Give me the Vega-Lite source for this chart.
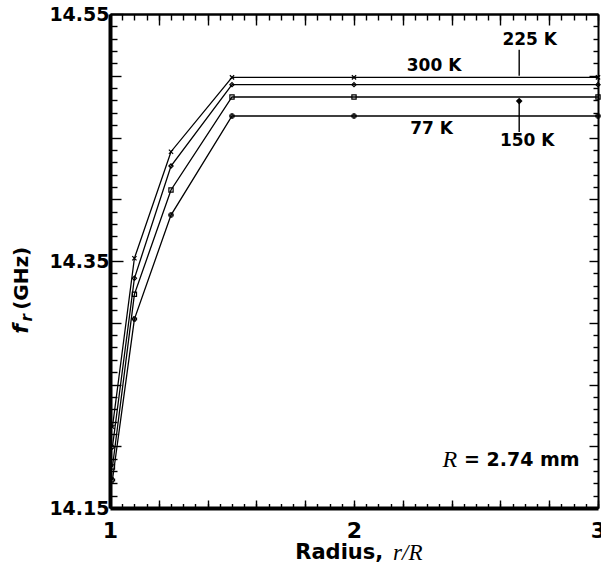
{
  "$schema": "https://vega.github.io/schema/vega-lite/v6.json",
  "width": 488,
  "height": 494,
  "autosize": "none",
  "padding": {"left": 110, "top": 14, "right": 3, "bottom": 64},
  "background": "white",
  "config": {
    "view": {"stroke": null},
    "axis": {"grid": false, "domainColor": "black", "tickColor": "black", "labelColor": "black", "labelFont": "DejaVu Sans", "labelFontWeight": "bold", "labelFontSize": 19, "labelOverlap": false, "labelFlush": false, "title": null, "ticks": true, "tickWidth": 1.4}
  },
  "datasets": {
    "curves": [
      {"T": "300 K", "r": 1.01, "f": 14.2156},
      {"T": "300 K", "r": 1.1, "f": 14.3522},
      {"T": "300 K", "r": 1.25, "f": 14.4385},
      {"T": "300 K", "r": 1.5, "f": 14.4987},
      {"T": "300 K", "r": 2.0, "f": 14.4987},
      {"T": "300 K", "r": 3.0, "f": 14.4987},
      {"T": "225 K", "r": 1.01, "f": 14.1994},
      {"T": "225 K", "r": 1.1, "f": 14.336},
      {"T": "225 K", "r": 1.25, "f": 14.4269},
      {"T": "225 K", "r": 1.5, "f": 14.4928},
      {"T": "225 K", "r": 2.0, "f": 14.4928},
      {"T": "225 K", "r": 3.0, "f": 14.4928},
      {"T": "150 K", "r": 1.01, "f": 14.1832},
      {"T": "150 K", "r": 1.1, "f": 14.323},
      {"T": "150 K", "r": 1.25, "f": 14.4075},
      {"T": "150 K", "r": 1.5, "f": 14.4828},
      {"T": "150 K", "r": 2.0, "f": 14.4828},
      {"T": "150 K", "r": 3.0, "f": 14.4828},
      {"T": "77 K", "r": 1.01, "f": 14.1727},
      {"T": "77 K", "r": 1.1, "f": 14.303},
      {"T": "77 K", "r": 1.25, "f": 14.3872},
      {"T": "77 K", "r": 1.5, "f": 14.4674},
      {"T": "77 K", "r": 2.0, "f": 14.4674},
      {"T": "77 K", "r": 3.0, "f": 14.4674}
    ],
    "labels": [
      {"text": "225 K", "x": 2.72, "y": 14.529},
      {"text": "300 K", "x": 2.328, "y": 14.508},
      {"text": "77 K", "x": 2.318, "y": 14.457},
      {"text": "150 K", "x": 2.71, "y": 14.447}
    ],
    "arrows": [
      {"T": "225 K", "x": 2.677, "y": 14.521, "y2": 14.5, "tip": 14.5015, "dir": "down"},
      {"T": "150 K", "x": 2.677, "y": 14.4545, "y2": 14.481, "tip": 14.4795, "dir": "up"}
    ]
  },
  "layer": [
    {
      "data": {"name": "curves"},
      "mark": {"type": "line", "color": "black", "strokeWidth": 1.3},
      "encoding": {
        "x": {"field": "r", "type": "quantitative", "scale": {"domain": [1, 3], "nice": false, "zero": false},
          "axis": {"orient": "bottom", "values": [1,1.2,1.4,1.6,1.8,2,2.2,2.4,2.6,2.8,3],
            "labelExpr": "round(datum.value*100) % 100 == 0 ? format(datum.value, 'd') : ''",
            "tickSize": -8, "domainWidth": 4, "labelPadding": 20, "labelFontSize": 22}},
        "y": {"field": "f", "type": "quantitative", "scale": {"domain": [14.15, 14.55], "nice": false, "zero": false},
          "axis": {"orient": "left", "values": [14.15,14.16,14.17,14.18,14.19,14.2,14.21,14.22,14.23,14.24,14.25,14.26,14.27,14.28,14.29,14.3,14.31,14.32,14.33,14.34,14.35,14.36,14.37,14.38,14.39,14.4,14.41,14.42,14.43,14.44,14.45,14.46,14.47,14.48,14.49,14.5,14.51,14.52,14.53,14.54,14.55],
            "labelExpr": "indexof([1415,1435,1455], round(datum.value*100)) >= 0 ? format(datum.value, '.2f') : ''",
            "tickSize": {"condition": [{"test": "indexof([1415,1435,1455], round(datum.value*100)) >= 0", "value": -13}, {"test": "round(datum.value*100) % 5 == 0", "value": -11}], "value": -7},
            "domainWidth": 4, "labelPadding": 14}},
        "detail": {"field": "T", "type": "nominal"}
      }
    },
    {
      "data": {"name": "curves"},
      "mark": {"type": "point", "filled": false, "stroke": "black", "strokeWidth": 1.2, "size": 18, "opacity": 1},
      "encoding": {
        "x": {"field": "r", "type": "quantitative", "axis": {"orient": "top", "values": [1,1.2,1.4,1.6,1.8,2,2.2,2.4,2.6,2.8,3],
            "labels": false, "tickSize": -11, "domainWidth": 2.5}},
        "y": {"field": "f", "type": "quantitative", "axis": {"orient": "right", "values": [14.15,14.16,14.17,14.18,14.19,14.2,14.21,14.22,14.23,14.24,14.25,14.26,14.27,14.28,14.29,14.3,14.31,14.32,14.33,14.34,14.35,14.36,14.37,14.38,14.39,14.4,14.41,14.42,14.43,14.44,14.45,14.46,14.47,14.48,14.49,14.5,14.51,14.52,14.53,14.54,14.55],
            "labels": false,
            "tickSize": {"condition": {"test": "round(datum.value*100) % 5 == 0", "value": -9}, "value": -5},
            "domainWidth": 2}},
        "shape": {"field": "T", "type": "nominal", "legend": null,
          "scale": {"domain": ["300 K", "225 K", "150 K", "77 K"], "range": ["M-1,-1L1,1M1,-1L-1,1", "diamond", "square", "cross"]}}
      }
    },
    {
      "data": {"name": "labels"},
      "mark": {"type": "text", "font": "DejaVu Sans", "fontWeight": "bold", "fontSize": 17, "align": "center", "baseline": "middle", "color": "black"},
      "encoding": {
        "x": {"field": "x", "type": "quantitative", "axis": {"orient": "bottom", "values": [1,1.05,1.1,1.15,1.2,1.25,1.3,1.35,1.4,1.45,1.5,1.55,1.6,1.65,1.7,1.75,1.8,1.85,1.9,1.95,2,2.05,2.1,2.15,2.2,2.25,2.3,2.35,2.4,2.45,2.5,2.55,2.6,2.65,2.7,2.75,2.8,2.85,2.9,2.95,3],
            "labels": false, "domain": false, "tickSize": -4.5}},
        "y": {"field": "y", "type": "quantitative", "axis": null},
        "text": {"field": "text"}
      }
    },
    {
      "data": {"name": "arrows"},
      "mark": {"type": "rule", "color": "black", "strokeWidth": 1.4},
      "encoding": {
        "x": {"field": "x", "type": "quantitative", "axis": {"orient": "top", "values": [1,1.05,1.1,1.15,1.2,1.25,1.3,1.35,1.4,1.45,1.5,1.55,1.6,1.65,1.7,1.75,1.8,1.85,1.9,1.95,2,2.05,2.1,2.15,2.2,2.25,2.3,2.35,2.4,2.45,2.5,2.55,2.6,2.65,2.7,2.75,2.8,2.85,2.9,2.95,3],
            "labels": false, "domain": false, "tickSize": -6}},
        "y": {"field": "y", "type": "quantitative", "axis": null},
        "y2": {"field": "y2"}
      }
    },
    {
      "data": {"name": "arrows"},
      "mark": {"type": "point", "filled": true, "color": "black", "size": 45, "opacity": 1},
      "encoding": {
        "x": {"field": "x", "type": "quantitative", "axis": null},
        "y": {"field": "tip", "type": "quantitative", "axis": null},
        "shape": {"field": "dir", "type": "nominal", "legend": null, "scale": {"domain": ["down", "up"], "range": ["triangle-down", "triangle-up"]}}
      }
    },
    {
      "data": {"values": [{"text": "R", "x": 2.393, "y": 14.189}]},
      "mark": {"type": "text", "font": "Liberation Serif", "fontStyle": "italic", "fontSize": 24, "align": "center", "baseline": "middle", "color": "black"},
      "encoding": {
        "x": {"field": "x", "type": "quantitative", "axis": null},
        "y": {"field": "y", "type": "quantitative", "axis": null},
        "text": {"field": "text"}
      }
    },
    {
      "data": {"values": [{"text": "= 2.74 mm", "x": 2.451, "y": 14.189}]},
      "mark": {"type": "text", "font": "DejaVu Sans", "fontWeight": "bold", "fontSize": 19, "align": "left", "baseline": "middle", "color": "black"},
      "encoding": {
        "x": {"field": "x", "type": "quantitative", "axis": null},
        "y": {"field": "y", "type": "quantitative", "axis": null},
        "text": {"field": "text"}
      }
    },
    {
      "data": {"values": [{"text": "Radius,", "x": 2.12, "y": 14.1135}]},
      "mark": {"type": "text", "font": "DejaVu Sans", "fontWeight": "bold", "fontSize": 21, "align": "right", "baseline": "middle", "color": "black"},
      "encoding": {
        "x": {"field": "x", "type": "quantitative", "axis": null},
        "y": {"field": "y", "type": "quantitative", "axis": null},
        "text": {"field": "text"}
      }
    },
    {
      "data": {"values": [{"text": "r/R", "x": 2.16, "y": 14.1135}]},
      "mark": {"type": "text", "font": "Liberation Serif", "fontStyle": "italic", "fontSize": 23, "align": "left", "baseline": "middle", "color": "black"},
      "encoding": {
        "x": {"field": "x", "type": "quantitative", "axis": null},
        "y": {"field": "y", "type": "quantitative", "axis": null},
        "text": {"field": "text"}
      }
    },
    {
      "data": {"values": [{"text": "(GHz)", "x": 0.639, "y": 14.336}]},
      "mark": {"type": "text", "font": "DejaVu Sans", "fontWeight": "bold", "fontSize": 20, "align": "center", "baseline": "middle", "angle": 270, "color": "black"},
      "encoding": {
        "x": {"field": "x", "type": "quantitative", "axis": null},
        "y": {"field": "y", "type": "quantitative", "axis": null},
        "text": {"field": "text"}
      }
    },
    {
      "data": {"values": [{"text": "f", "x": 0.635, "y": 14.295}]},
      "mark": {"type": "text", "font": "DejaVu Sans", "fontWeight": "bold", "fontStyle": "italic", "fontSize": 22, "align": "center", "baseline": "middle", "angle": 270, "color": "black"},
      "encoding": {
        "x": {"field": "x", "type": "quantitative", "axis": null},
        "y": {"field": "y", "type": "quantitative", "axis": null},
        "text": {"field": "text"}
      }
    },
    {
      "data": {"values": [{"text": "r", "x": 0.66, "y": 14.304}]},
      "mark": {"type": "text", "font": "DejaVu Sans", "fontWeight": "bold", "fontStyle": "italic", "fontSize": 15, "align": "center", "baseline": "middle", "angle": 270, "color": "black"},
      "encoding": {
        "x": {"field": "x", "type": "quantitative", "axis": null},
        "y": {"field": "y", "type": "quantitative", "axis": null},
        "text": {"field": "text"}
      }
    }
  ],
  "resolve": {"axis": {"x": "independent", "y": "independent"}}
}
